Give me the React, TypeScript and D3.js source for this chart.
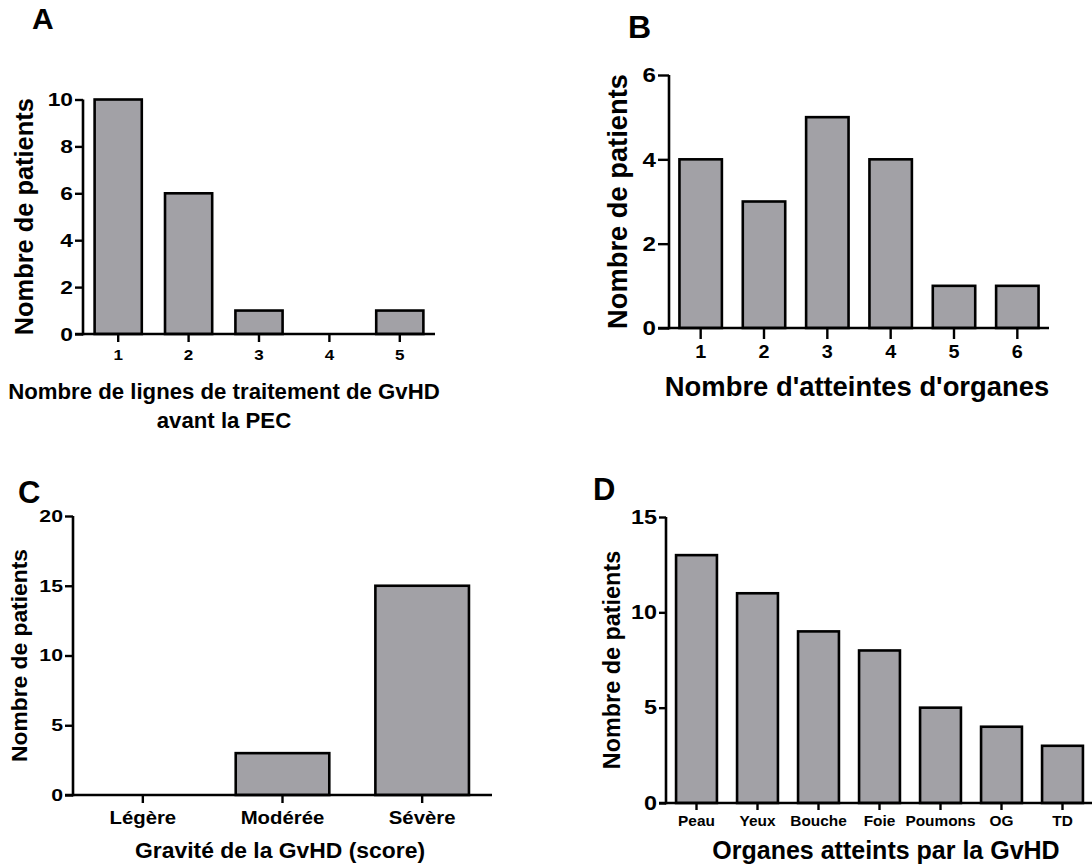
import React, { useEffect, useRef } from 'react';
import * as d3 from 'd3';

// panel A
const linesCategories = ['1', '2', '3', '4', '5'];
const linesValues = [10, 6, 1, 0, 1];
const linesTicks = [0, 2, 4, 6, 8, 10];

// panel B
const organCountCategories = ['1', '2', '3', '4', '5', '6'];
const organCountValues = [4, 3, 5, 4, 1, 1];
const organCountTicks = [0, 2, 4, 6];

// panel C
const severityCategories = ['Légère', 'Modérée', 'Sévère'];
const severityValues = [0, 3, 15];
const severityTicks = [0, 5, 10, 15, 20];

// panel D
const organCategories = ['Peau', 'Yeux', 'Bouche', 'Foie', 'Poumons', 'OG', 'TD'];
const organValues = [13, 11, 9, 8, 5, 4, 3];
const organTicks = [0, 5, 10, 15];

const FONT = "'Liberation Sans', Arial, Helvetica, sans-serif";
const BAR_FILL = '#a2a1a6';

interface Panel {
    letter: string;
    letterX: number;
    letterY: number;
    letterSize: number;
    categories: string[];
    values: number[];
    ticks: number[];
    x0: number;
    x1: number;
    yZero: number;
    yTop: number;
    tickLen: number;
    yTickSize: number;
    yTickStretch: number;
    xTickSize: number;
    xTickStretch: number;
    xTickBase: number;
    yLabelX: number;
    yLabelSize: number;
    title: string[];
    titleX: number;
    titleY: number;
    titleSize: number;
    titleGap: number;
}

const panels: Panel[] = [
    {
        letter: 'A', letterX: 32, letterY: 29, letterSize: 30,
        categories: linesCategories, values: linesValues, ticks: linesTicks,
        x0: 83, x1: 435, yZero: 334, yTop: 99.5, tickLen: 8,
        yTickSize: 19, yTickStretch: 1.2, xTickSize: 15.5, xTickStretch: 1.1, xTickBase: 360,
        yLabelX: 33, yLabelSize: 25.4,
        title: ['Nombre de lignes de traitement de GvHD', 'avant la PEC'],
        titleX: 224, titleY: 399, titleSize: 22.2, titleGap: 28.5
    },
    {
        letter: 'B', letterX: 628, letterY: 38, letterSize: 32,
        categories: organCountCategories, values: organCountValues, ticks: organCountTicks,
        x0: 669, x1: 1049, yZero: 328, yTop: 75, tickLen: 11,
        yTickSize: 21, yTickStretch: 1.15, xTickSize: 18, xTickStretch: 1.1, xTickBase: 358,
        yLabelX: 627, yLabelSize: 27.3,
        title: ["Nombre d'atteintes d'organes"],
        titleX: 857, titleY: 396, titleSize: 27.4, titleGap: 0
    },
    {
        letter: 'C', letterX: 18, letterY: 503, letterSize: 31,
        categories: severityCategories, values: severityValues, ticks: severityTicks,
        x0: 73, x1: 492, yZero: 795, yTop: 516, tickLen: 8,
        yTickSize: 17, yTickStretch: 1.25, xTickSize: 18.5, xTickStretch: 1.1, xTickBase: 824,
        yLabelX: 27, yLabelSize: 22.8,
        title: ['Gravité de la GvHD (score)'],
        titleX: 280, titleY: 858, titleSize: 22.9, titleGap: 0
    },
    {
        letter: 'D', letterX: 593, letterY: 500, letterSize: 31,
        categories: organCategories, values: organValues, ticks: organTicks,
        x0: 666, x1: 1093, yZero: 803, yTop: 517, tickLen: 7,
        yTickSize: 19.5, yTickStretch: 1.2, xTickSize: 15.4, xTickStretch: 1, xTickBase: 826,
        yLabelX: 620, yLabelSize: 23.4,
        title: ['Organes atteints par la GvHD'],
        titleX: 886, titleY: 859, titleSize: 25, titleGap: 0
    }
];

function drawPanel(svg: d3.Selection<SVGSVGElement, unknown, null, undefined>, p: Panel) {
    const g = svg.append('g').style('font-family', FONT).style('font-weight', 'bold');

    const x = d3.scaleBand<string>()
        .domain(p.categories)
        .range([p.x0, p.x1])
        .paddingInner(0.33)
        .paddingOuter(0.165);

    const yMax = p.ticks[p.ticks.length - 1];
    const y = d3.scaleLinear().domain([0, yMax]).range([p.yZero, p.yTop]);

    const data = p.categories.map((c, i) => ({ c, v: p.values[i] }));

    // bars (zero counts draw nothing)
    g.selectAll('.bar')
        .data(data.filter(d => d.v > 0))
        .enter().append('rect')
        .attr('class', 'bar')
        .attr('x', d => x(d.c) as number)
        .attr('y', d => y(d.v))
        .attr('width', x.bandwidth())
        .attr('height', d => y(0) - y(d.v))
        .attr('fill', BAR_FILL)
        .attr('stroke', '#000')
        .attr('stroke-width', 2.6);

    // y axis
    const yAxis = d3.axisLeft(y)
        .tickValues(p.ticks)
        .tickFormat(d3.format('d'))
        .tickSize(p.tickLen)
        .tickSizeOuter(0);
    const ya = g.append('g')
        .attr('transform', `translate(${p.x0},0)`)
        .call(yAxis);
    ya.select('.domain').attr('stroke-width', 2.6).attr('d', `M0,${p.yZero + 1.3}V${p.yTop}`);
    ya.selectAll('.tick line').attr('stroke-width', 2.4);
    ya.selectAll('.tick text')
        .attr('font-size', p.yTickSize)
        .attr('font-family', FONT)
        .attr('fill', '#000')
        .attr('x', 0)
        .attr('transform', `translate(${-p.tickLen - 2},0) scale(${p.yTickStretch},1)`);

    // x axis
    const xAxis = d3.axisBottom(x).tickSize(p.tickLen).tickSizeOuter(0);
    const xa = g.append('g')
        .attr('transform', `translate(0,${p.yZero})`)
        .call(xAxis);
    xa.select('.domain').attr('stroke-width', 2.6).attr('d', `M${p.x0 - p.tickLen},0H${p.x1}`);
    xa.selectAll('.tick line').attr('stroke-width', 2.4);
    xa.selectAll('.tick text')
        .attr('font-size', p.xTickSize)
        .attr('font-family', FONT)
        .attr('fill', '#000')
        .attr('dy', null)
        .attr('y', p.xTickBase - p.yZero)
        .attr('transform', `scale(${p.xTickStretch},1)`);

    // y label
    g.append('text')
        .attr('transform', `translate(${p.yLabelX},${(p.yZero + p.yTop) / 2}) rotate(-90)`)
        .attr('text-anchor', 'middle')
        .attr('font-size', p.yLabelSize)
        .text('Nombre de patients');

    // x title
    p.title.forEach((line, i) => {
        g.append('text')
            .attr('x', p.titleX)
            .attr('y', p.titleY + i * p.titleGap)
            .attr('text-anchor', 'middle')
            .attr('font-size', p.titleSize)
            .text(line);
    });

    // panel letter
    g.append('text')
        .attr('x', p.letterX)
        .attr('y', p.letterY)
        .attr('font-size', p.letterSize)
        .text(p.letter);
}

export default function App() {
    const svgRef = useRef<SVGSVGElement>(null);

    useEffect(() => {
        const svg = d3.select(svgRef.current as SVGSVGElement);
        svg.selectAll('*').remove();
        panels.forEach(p => drawPanel(svg, p));
    }, []);

    return (
        <svg
            ref={svgRef}
            width={1092}
            height={867}
            style={{ position: 'absolute', left: 0, top: 0, background: '#fff' }}
        />
    );
}
